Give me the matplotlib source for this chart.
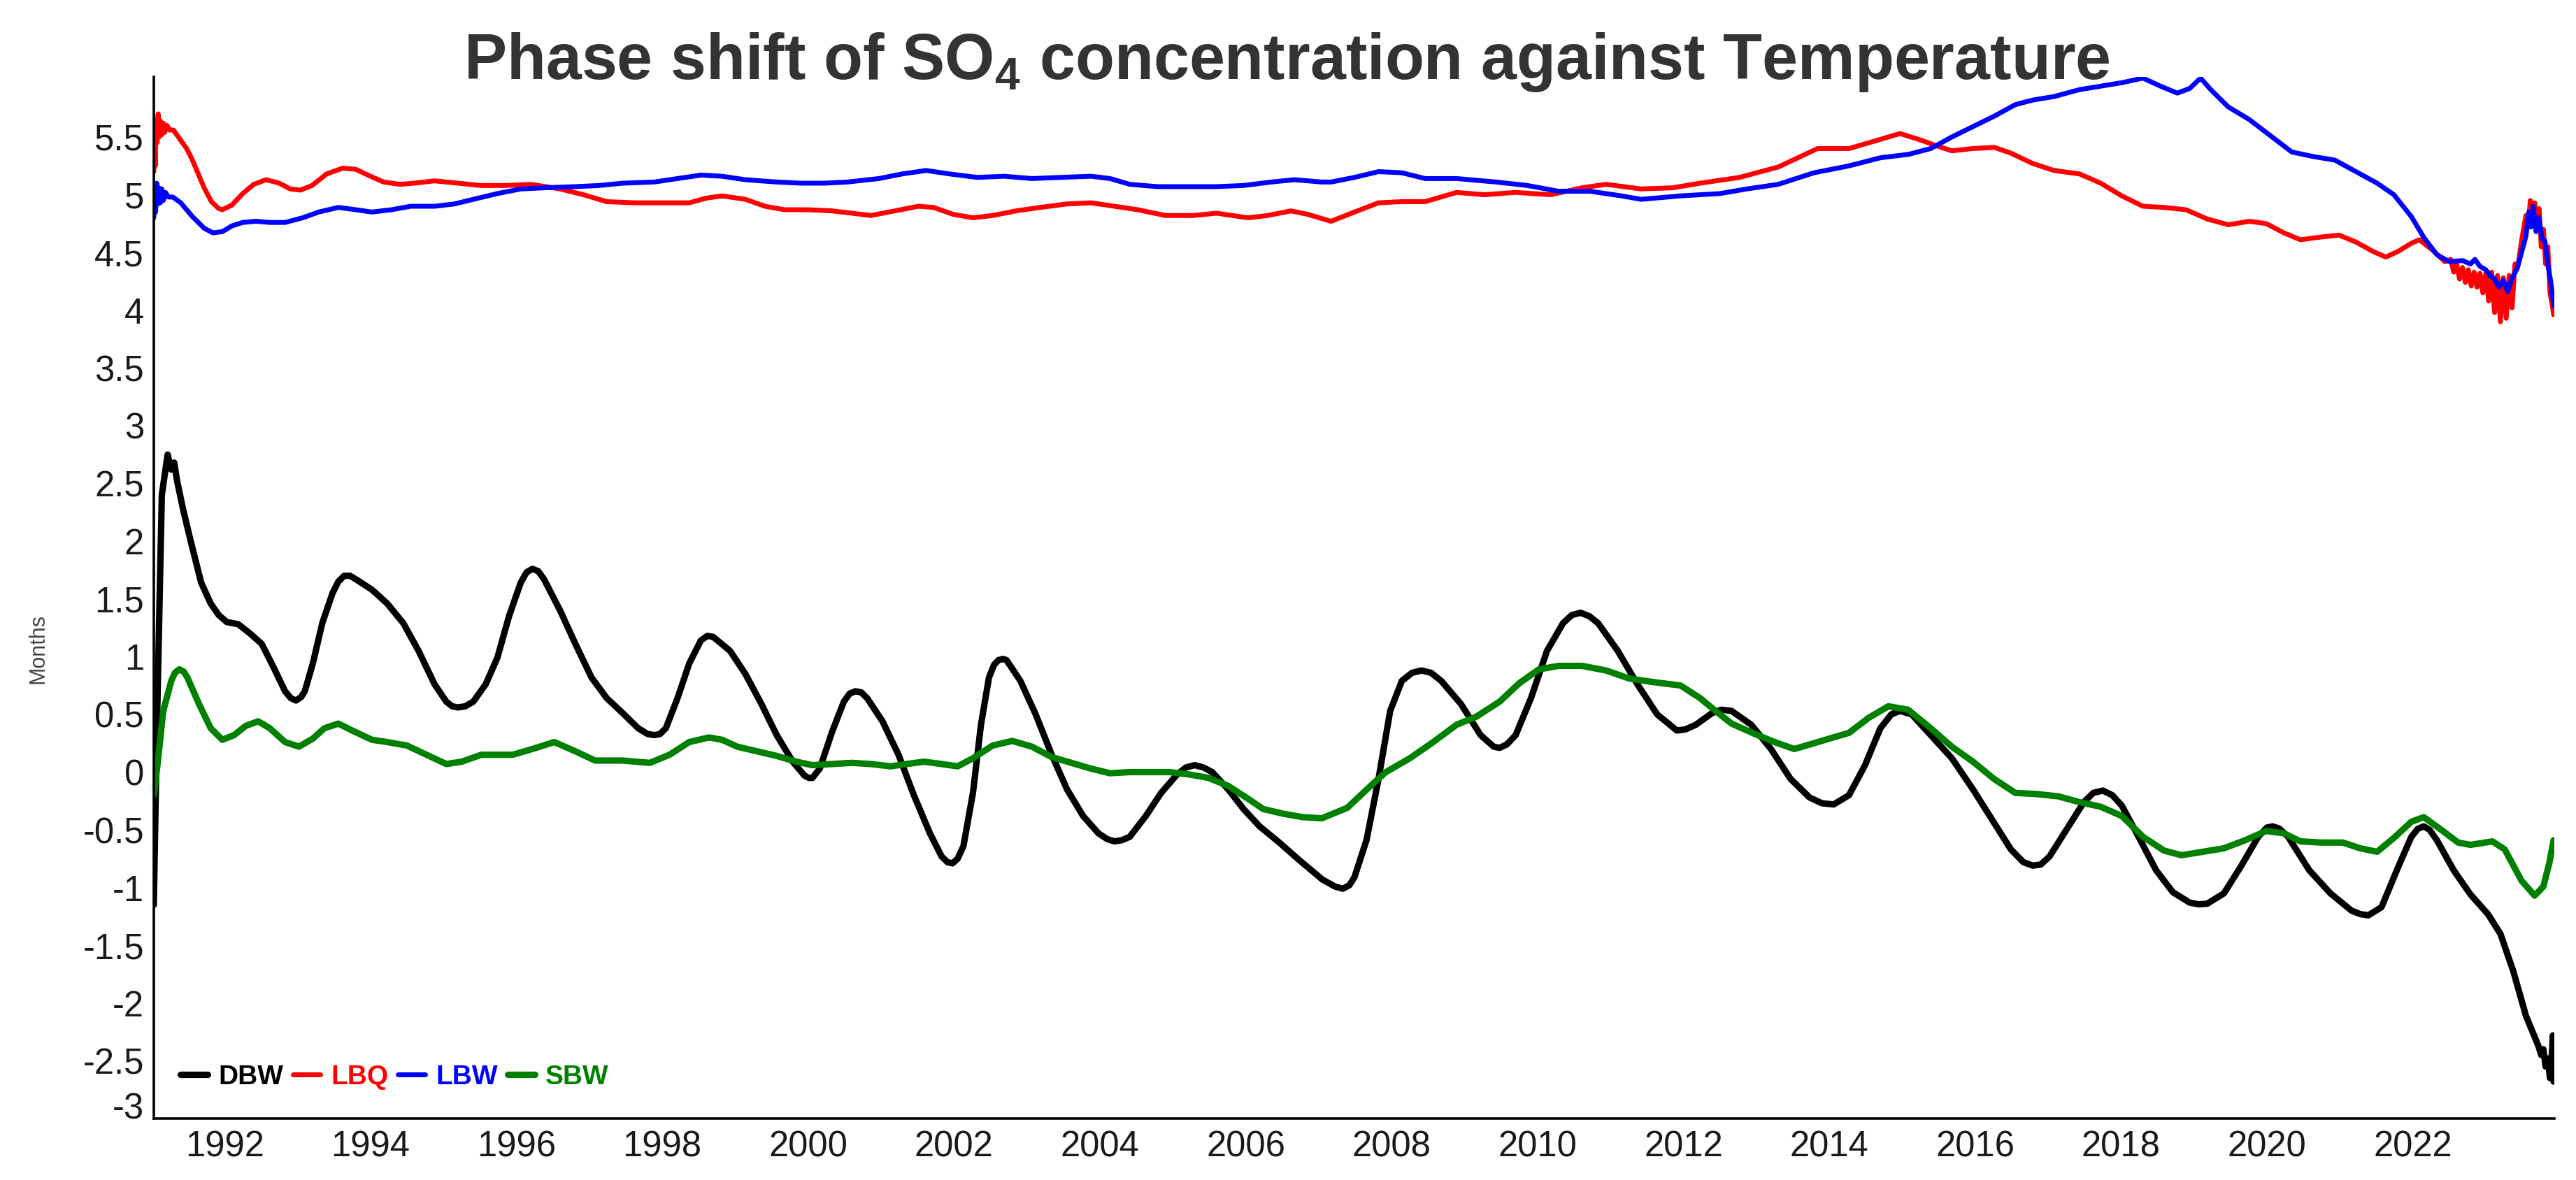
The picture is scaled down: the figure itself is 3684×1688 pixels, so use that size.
import matplotlib
matplotlib.use("Agg")
import matplotlib.pyplot as plt

# ---------------- data ----------------
dbw_year = [1991.03, 1991.08, 1991.14, 1991.22, 1991.27, 1991.31, 1991.35, 1991.43, 1991.54, 1991.68,
            1991.81, 1991.92, 1992.03, 1992.19, 1992.35, 1992.51, 1992.67, 1992.83, 1992.91, 1992.98,
            1993.05, 1993.10, 1993.21, 1993.34, 1993.48, 1993.56, 1993.64, 1993.72, 1993.80, 1994.02,
            1994.23, 1994.45, 1994.66, 1994.88, 1995.04, 1995.12, 1995.20, 1995.30, 1995.41, 1995.58,
            1995.74, 1995.90, 1996.06, 1996.14, 1996.22, 1996.30, 1996.38, 1996.60, 1996.81, 1997.03,
            1997.24, 1997.46, 1997.67, 1997.80, 1997.89, 1997.97, 1998.05, 1998.21, 1998.37, 1998.53,
            1998.62, 1998.70, 1998.93, 1999.14, 1999.36, 1999.57, 1999.79, 1999.95, 2000.01, 2000.06,
            2000.16, 2000.33, 2000.49, 2000.57, 2000.65, 2000.73, 2000.81, 2001.02, 2001.24, 2001.45,
            2001.67, 2001.83, 2001.91, 2001.98, 2002.05, 2002.13, 2002.26, 2002.37, 2002.48, 2002.55,
            2002.61, 2002.67, 2002.72, 2002.91, 2003.12, 2003.34, 2003.55, 2003.77, 2003.98, 2004.10,
            2004.20, 2004.30, 2004.41, 2004.63, 2004.84, 2005.06, 2005.18, 2005.30, 2005.42, 2005.54,
            2005.76, 2005.97, 2006.19, 2006.46, 2006.73, 2007.05, 2007.22, 2007.33, 2007.42, 2007.49,
            2007.655, 2007.82, 2007.98, 2008.14, 2008.28, 2008.41, 2008.54, 2008.68, 2008.95, 2009.22,
            2009.40, 2009.48, 2009.58, 2009.70, 2009.91, 2010.13, 2010.35, 2010.47, 2010.59, 2010.71,
            2010.83, 2011.10, 2011.37, 2011.64, 2011.91, 2012.03, 2012.17, 2012.39, 2012.52, 2012.66,
            2012.93, 2013.20, 2013.47, 2013.73, 2013.90, 2014.06, 2014.27, 2014.49, 2014.70, 2014.85,
            2014.97, 2015.13, 2015.39, 2015.68, 2015.97, 2016.26, 2016.49, 2016.66, 2016.79, 2016.90,
            2017.02, 2017.25, 2017.49, 2017.62, 2017.75, 2017.88, 2018.01, 2018.24, 2018.48, 2018.71,
            2018.94, 2019.06, 2019.18, 2019.41, 2019.64, 2019.88, 2020.00, 2020.08, 2020.17, 2020.29,
            2020.58, 2020.87, 2021.16, 2021.28, 2021.39, 2021.57, 2021.80, 2021.98, 2022.07, 2022.15,
            2022.23, 2022.33, 2022.56, 2022.79, 2023.03, 2023.20, 2023.38, 2023.55, 2023.72, 2023.76,
            2023.79, 2023.82, 2023.85, 2023.88, 2023.905, 2023.92, 2023.93]
dbw = [-1.15, 0.60, 2.40, 2.75, 2.62, 2.68, 2.52, 2.28, 1.99, 1.64,
       1.46, 1.36, 1.30, 1.28, 1.20, 1.11, 0.91, 0.70, 0.64, 0.62,
       0.65, 0.70, 0.94, 1.29, 1.55, 1.65, 1.70, 1.70, 1.67, 1.58,
       1.46, 1.29, 1.05, 0.76, 0.61, 0.57, 0.56, 0.57, 0.61, 0.76,
       0.99, 1.35, 1.64, 1.73, 1.76, 1.74, 1.67, 1.40, 1.11, 0.82,
       0.64, 0.51, 0.38, 0.33, 0.32, 0.33, 0.38, 0.64, 0.94, 1.14,
       1.18, 1.17, 1.05, 0.85, 0.59, 0.32, 0.09, -0.03, -0.05, -0.05,
       0.03, 0.35, 0.61, 0.68, 0.70, 0.69, 0.64, 0.44, 0.15, -0.20,
       -0.53, -0.73, -0.78, -0.79, -0.75, -0.64, -0.18, 0.41, 0.82, 0.93,
       0.97, 0.98, 0.97, 0.79, 0.50, 0.15, -0.15, -0.38, -0.53, -0.58,
       -0.60, -0.59, -0.56, -0.38, -0.18, -0.02, 0.04, 0.06, 0.04, 0.00,
       -0.15, -0.32, -0.47, -0.61, -0.76, -0.93, -0.99, -1.01, -0.98, -0.91,
       -0.59, -0.06, 0.53, 0.79, 0.86, 0.88, 0.86, 0.79, 0.59, 0.32,
       0.22, 0.21, 0.24, 0.32, 0.64, 1.05, 1.29, 1.36, 1.38, 1.35,
       1.29, 1.05, 0.76, 0.50, 0.36, 0.37, 0.41, 0.51, 0.54, 0.53,
       0.41, 0.20, -0.06, -0.22, -0.27, -0.28, -0.20, 0.06, 0.38, 0.50,
       0.53, 0.50, 0.32, 0.12, -0.15, -0.44, -0.67, -0.78, -0.81, -0.80,
       -0.73, -0.50, -0.26, -0.18, -0.16, -0.20, -0.29, -0.56, -0.85, -1.04,
       -1.13, -1.145, -1.14, -1.05, -0.82, -0.56, -0.48, -0.47, -0.49, -0.56,
       -0.85, -1.05, -1.20, -1.23, -1.24, -1.17, -0.82, -0.56, -0.49, -0.47,
       -0.50, -0.59, -0.85, -1.06, -1.23, -1.40, -1.73, -2.11, -2.37, -2.45,
       -2.40, -2.55, -2.48, -2.65, -2.45, -2.28, -2.68]

lbq_year = [1991.03, 1991.04, 1991.05, 1991.06, 1991.075, 1991.09, 1991.105, 1991.12, 1991.14, 1991.16,
            1991.18, 1991.21, 1991.25, 1991.30, 1991.40, 1991.48, 1991.56, 1991.64, 1991.72, 1991.82,
            1991.92, 1991.97, 1992.10, 1992.25, 1992.40, 1992.57, 1992.75, 1992.90, 1993.04, 1993.20,
            1993.40, 1993.62, 1993.80, 1994.00, 1994.18, 1994.40, 1994.60, 1994.88, 1995.20, 1995.50,
            1995.85, 1996.20, 1996.40, 1996.60, 1996.92, 1997.24, 1997.62, 1998.05, 1998.37, 1998.60,
            1998.82, 1999.14, 1999.41, 1999.68, 2000.00, 2000.33, 2000.60, 2000.86, 2001.19, 2001.51,
            2001.72, 2001.99, 2002.26, 2002.53, 2002.85, 2003.18, 2003.55, 2003.88, 2004.20, 2004.52,
            2004.90, 2005.28, 2005.60, 2006.03, 2006.30, 2006.62, 2006.85, 2007.17, 2007.49, 2007.82,
            2008.14, 2008.46, 2008.89, 2009.27, 2009.70, 2010.18, 2010.61, 2010.94, 2011.42, 2011.85,
            2012.23, 2012.77, 2013.30, 2013.84, 2014.27, 2014.65, 2014.97, 2015.27, 2015.44, 2015.68,
            2015.97, 2016.26, 2016.49, 2016.79, 2017.08, 2017.43, 2017.72, 2018.01, 2018.30, 2018.59,
            2018.89, 2019.18, 2019.47, 2019.76, 2019.99, 2020.23, 2020.46, 2020.69, 2020.99, 2021.22,
            2021.45, 2021.63, 2021.80, 2021.98, 2022.09, 2022.27, 2022.44, 2022.52, 2022.56, 2022.60,
            2022.64, 2022.68, 2022.72, 2022.76, 2022.80, 2022.84, 2022.88, 2022.92, 2022.96, 2023.00,
            2023.04, 2023.08, 2023.12, 2023.16, 2023.20, 2023.24, 2023.28, 2023.32, 2023.36, 2023.40,
            2023.44, 2023.49, 2023.55, 2023.58, 2023.61, 2023.64, 2023.67, 2023.70, 2023.73, 2023.76,
            2023.79, 2023.82, 2023.85, 2023.88, 2023.91, 2023.93]
lbq = [5.20, 5.54, 5.25, 5.65, 5.45, 5.70, 5.50, 5.64, 5.52, 5.62,
       5.54, 5.60, 5.56, 5.56, 5.47, 5.40, 5.30, 5.18, 5.06, 4.94,
       4.88, 4.87, 4.91, 5.01, 5.09, 5.13, 5.10, 5.05, 5.04, 5.08,
       5.18, 5.23, 5.22, 5.16, 5.11, 5.09, 5.10, 5.12, 5.10, 5.08,
       5.08, 5.09, 5.07, 5.05, 5.00, 4.94, 4.93, 4.93, 4.93, 4.97,
       4.99, 4.96, 4.90, 4.87, 4.87, 4.86, 4.84, 4.82, 4.86, 4.90,
       4.89, 4.83, 4.80, 4.82, 4.86, 4.89, 4.92, 4.93, 4.90, 4.87,
       4.82, 4.82, 4.84, 4.80, 4.82, 4.86, 4.83, 4.77, 4.85, 4.93,
       4.94, 4.94, 5.02, 5.00, 5.02, 5.00, 5.06, 5.09, 5.05, 5.06,
       5.10, 5.15, 5.24, 5.40, 5.40, 5.47, 5.53, 5.47, 5.43, 5.38,
       5.40, 5.41, 5.36, 5.27, 5.21, 5.18, 5.10, 4.99, 4.90, 4.89,
       4.87, 4.79, 4.74, 4.77, 4.75, 4.67, 4.61, 4.63, 4.65, 4.59,
       4.51, 4.46, 4.51, 4.58, 4.61, 4.52, 4.42, 4.44, 4.33, 4.40,
       4.27, 4.37, 4.24, 4.35, 4.21, 4.33, 4.20, 4.32, 4.15, 4.32,
       4.08, 4.33, 3.98, 4.30, 3.90, 4.28, 3.93, 4.30, 4.02, 4.40,
       4.38, 4.60, 4.82, 4.72, 4.95, 4.78, 4.93, 4.70, 4.88, 4.55,
       4.70, 4.40, 4.55, 4.15, 4.05, 3.96]

lbw_year = [1991.03, 1991.04, 1991.055, 1991.07, 1991.085, 1991.10, 1991.12, 1991.14, 1991.16, 1991.19,
            1991.23, 1991.29, 1991.40, 1991.48, 1991.56, 1991.64, 1991.72, 1991.84, 1991.97, 1992.10,
            1992.25, 1992.43, 1992.62, 1992.83, 1993.07, 1993.29, 1993.56, 1993.80, 1994.02, 1994.29,
            1994.55, 1994.88, 1995.15, 1995.41, 1995.74, 1996.06, 1996.38, 1996.81, 1997.14, 1997.46,
            1997.89, 1998.21, 1998.53, 1998.82, 1999.14, 1999.57, 1999.90, 2000.22, 2000.54, 2000.97,
            2001.29, 2001.62, 2001.94, 2002.32, 2002.69, 2003.07, 2003.45, 2003.88, 2004.14, 2004.41,
            2004.79, 2005.22, 2005.60, 2005.97, 2006.35, 2006.67, 2007.04, 2007.17, 2007.49, 2007.82,
            2008.14, 2008.46, 2008.89, 2009.43, 2009.86, 2010.29, 2010.72, 2011.15, 2011.42, 2011.96,
            2012.50, 2012.87, 2013.30, 2013.79, 2014.27, 2014.70, 2015.09, 2015.39, 2015.68, 2015.97,
            2016.26, 2016.55, 2016.79, 2017.08, 2017.43, 2017.72, 2018.01, 2018.30, 2018.54, 2018.77,
            2018.94, 2019.09, 2019.23, 2019.47, 2019.76, 2020.05, 2020.34, 2020.64, 2020.93, 2021.22,
            2021.51, 2021.74, 2021.98, 2022.15, 2022.33, 2022.50, 2022.68, 2022.79, 2022.85, 2022.92,
            2023.00, 2023.06, 2023.12, 2023.18, 2023.24, 2023.30, 2023.36, 2023.43, 2023.49, 2023.55,
            2023.59, 2023.62, 2023.65, 2023.69, 2023.73, 2023.77, 2023.81, 2023.85, 2023.89, 2023.93]
lbw = [4.80, 5.08, 4.85, 5.10, 4.92, 5.06, 4.93, 5.05, 4.95, 5.02,
       4.98, 4.98, 4.93, 4.87, 4.81, 4.76, 4.71, 4.67, 4.68, 4.73,
       4.76, 4.77, 4.76, 4.76, 4.80, 4.85, 4.89, 4.87, 4.85, 4.87,
       4.90, 4.90, 4.92, 4.96, 5.01, 5.05, 5.06, 5.07, 5.08, 5.10,
       5.11, 5.14, 5.17, 5.16, 5.13, 5.11, 5.10, 5.10, 5.11, 5.14,
       5.18, 5.21, 5.18, 5.15, 5.16, 5.14, 5.15, 5.16, 5.14, 5.09,
       5.07, 5.07, 5.07, 5.08, 5.11, 5.13, 5.11, 5.11, 5.15, 5.20,
       5.19, 5.14, 5.14, 5.11, 5.08, 5.03, 5.03, 4.99, 4.96, 4.99,
       5.01, 5.05, 5.09, 5.19, 5.25, 5.32, 5.35, 5.40, 5.50, 5.59,
       5.68, 5.78, 5.82, 5.85, 5.91, 5.94, 5.97, 6.01, 5.94, 5.88,
       5.92, 6.01, 5.91, 5.76, 5.65, 5.51, 5.37, 5.33, 5.30, 5.20,
       5.10, 5.00, 4.81, 4.63, 4.48, 4.42, 4.43, 4.40, 4.44, 4.38,
       4.35, 4.30, 4.27, 4.20, 4.26, 4.16, 4.28, 4.36, 4.50, 4.64,
       4.85, 4.72, 4.90, 4.68, 4.80, 4.62, 4.60, 4.40, 4.25, 4.04]

sbw_year = [1991.03, 1991.08, 1991.16, 1991.27, 1991.32, 1991.38, 1991.44, 1991.49, 1991.65, 1991.81,
            1991.97, 1992.13, 1992.29, 1992.46, 1992.62, 1992.83, 1993.02, 1993.21, 1993.37, 1993.56,
            1993.75, 1994.02, 1994.23, 1994.50, 1994.77, 1995.04, 1995.25, 1995.52, 1995.74, 1995.95,
            1996.22, 1996.52, 1996.81, 1997.08, 1997.46, 1997.83, 1998.10, 1998.37, 1998.64, 1998.82,
            1999.03, 1999.30, 1999.57, 1999.84, 2000.06, 2000.33, 2000.60, 2000.86, 2001.13, 2001.35,
            2001.59, 2001.83, 2002.05, 2002.26, 2002.53, 2002.80, 2003.07, 2003.34, 2003.61, 2003.88,
            2004.14, 2004.41, 2004.68, 2004.95, 2005.22, 2005.49, 2005.76, 2006.03, 2006.24, 2006.51,
            2006.78, 2007.04, 2007.12, 2007.39, 2007.66, 2007.92, 2008.25, 2008.57, 2008.89, 2009.16,
            2009.48, 2009.75, 2010.02, 2010.29, 2010.61, 2010.94, 2011.26, 2011.58, 2011.96, 2012.23,
            2012.44, 2012.66, 2012.98, 2013.25, 2013.52, 2013.79, 2014.00, 2014.27, 2014.54, 2014.81,
            2015.08, 2015.39, 2015.68, 2015.97, 2016.26, 2016.55, 2016.84, 2017.14, 2017.43, 2017.72,
            2018.01, 2018.30, 2018.59, 2018.83, 2019.12, 2019.41, 2019.70, 2019.99, 2020.23, 2020.46,
            2020.75, 2021.04, 2021.28, 2021.51, 2021.74, 2021.98, 2022.15, 2022.39, 2022.62, 2022.79,
            2023.09, 2023.26, 2023.49, 2023.67, 2023.79, 2023.87, 2023.93]
sbw = [-0.20, 0.06, 0.53, 0.79, 0.86, 0.89, 0.87, 0.82, 0.59, 0.38,
       0.28, 0.32, 0.40, 0.44, 0.38, 0.26, 0.22, 0.29, 0.38, 0.42,
       0.36, 0.28, 0.26, 0.23, 0.15, 0.07, 0.09, 0.15, 0.15, 0.15,
       0.20, 0.26, 0.18, 0.10, 0.10, 0.08, 0.15, 0.26, 0.30, 0.28,
       0.22, 0.18, 0.14, 0.09, 0.06, 0.07, 0.08, 0.07, 0.05, 0.07,
       0.09, 0.07, 0.05, 0.12, 0.23, 0.27, 0.22, 0.13, 0.08, 0.03,
       -0.01, 0.00, 0.00, 0.00, -0.02, -0.05, -0.12, -0.23, -0.32, -0.36,
       -0.39, -0.40, -0.38, -0.31, -0.15, 0.00, 0.12, 0.26, 0.41, 0.48,
       0.61, 0.77, 0.89, 0.92, 0.92, 0.88, 0.81, 0.78, 0.75, 0.64,
       0.53, 0.42, 0.33, 0.26, 0.20, 0.25, 0.29, 0.34, 0.47, 0.57,
       0.54, 0.38, 0.22, 0.09, -0.06, -0.18, -0.19, -0.21, -0.26, -0.30,
       -0.38, -0.56, -0.68, -0.72, -0.69, -0.66, -0.59, -0.51, -0.53, -0.60,
       -0.61, -0.61, -0.66, -0.69, -0.57, -0.43, -0.39, -0.50, -0.61, -0.63,
       -0.60, -0.67, -0.94, -1.07, -0.99, -0.79, -0.59]

series_names = ["DBW", "LBQ", "LBW", "SBW"]
series_colors = ["#000000", "#ff0000", "#0000ff", "#008000"]

x_ticks = list(range(1992, 2023, 2))
y_ticks = [5.5, 5, 4.5, 4, 3.5, 3, 2.5, 2, 1.5, 1, 0.5, 0, -0.5, -1, -1.5, -2, -2.5, -3]
y_tick_labels = ["5.5", "5", "4.5", "4", "3.5", "3", "2.5", "2", "1.5", "1", "0.5", "0",
                 "-0.5", "-1", "-1.5", "-2", "-2.5", "-3"]

title_text = r"Phase shift of SO$_\mathbf{4}$ concentration against Temperature"
y_label = "Months"

# ---------------- figure ----------------
plt.rcParams['font.family'] = ['Liberation Sans', 'DejaVu Sans']
plt.rcParams['mathtext.fontset'] = 'custom'
plt.rcParams['mathtext.rm'] = 'Liberation Sans'
plt.rcParams['mathtext.bf'] = 'Liberation Sans:bold'

DPI = 200
fig = plt.figure(figsize=(3684 / DPI, 1688 / DPI), dpi=DPI)
ax = fig.add_axes([0.0597, 0.0521, 0.9319, 0.8827])

xs = [dbw_year, lbq_year, lbw_year, sbw_year]
ys = [dbw, lbq, lbw, sbw]
widths = [3.3, 2.5, 2.5, 3.3]
for xv, yv, name, col, lw in zip(xs, ys, series_names, series_colors, widths):
    ax.plot(xv, yv, color=col, lw=lw, label=name, solid_joinstyle='round',
            solid_capstyle='round')

ax.set_xlim(1991.03, 2023.94)
ax.set_ylim(-3.0, 6.02)
ax.set_xticks(x_ticks)
ax.set_xticklabels([str(t) for t in x_ticks])
ax.set_yticks(y_ticks)
ax.set_yticklabels(y_tick_labels)
ax.tick_params(axis='both', length=0, labelsize=18.3, colors='#1a1a1a')
ax.tick_params(axis='x', pad=6)
ax.tick_params(axis='y', pad=5)
for lab in ax.get_yticklabels():
    if lab.get_text() == "-3":
        lab.set_va('baseline')

for s in ['top', 'right']:
    ax.spines[s].set_visible(False)
for s in ['left', 'bottom']:
    ax.spines[s].set_color('black')
    ax.spines[s].set_linewidth(1.3)

ax.set_ylabel(y_label, fontsize=11, color='#444444')
ax.yaxis.set_label_coords(-0.0437, 0.451)

leg = ax.legend(loc='center left', bbox_to_anchor=(0.011, 0.0396), ncol=4, frameon=False,
                handlelength=1.0, handletextpad=0.4, columnspacing=0.35, borderpad=0,
                borderaxespad=0, labelcolor='linecolor',
                prop={'family': ['Liberation Sans', 'DejaVu Sans'], 'weight': 'bold', 'size': 14})

fig.text(0.4995, 0.933, title_text, ha='center', va='baseline', fontsize=33,
         fontweight='bold', color='#333333')

fig.savefig("out.png", dpi=DPI)
